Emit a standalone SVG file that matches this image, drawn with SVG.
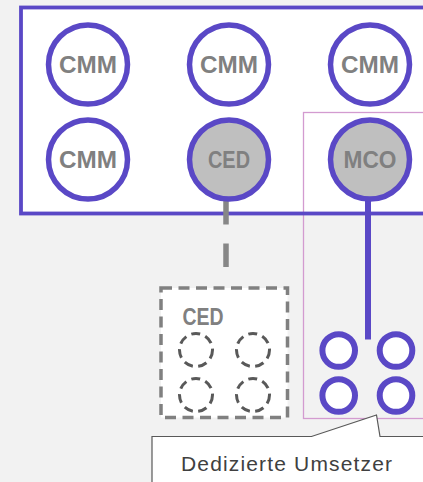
<svg xmlns="http://www.w3.org/2000/svg" width="423" height="482" viewBox="0 0 423 482">
  <style>
    .ring { stroke: #5a48c6; stroke-width: 5.5; }
    .cmm { fill: #ffffff; }
    .sel { fill: #bfbfbf; }
    .lbl { font-family: "Liberation Sans", Arial, sans-serif; font-weight: 700; font-size: 24px; fill: #808080; text-anchor: middle; }
    .conv { fill: #ffffff; stroke: #5a48c6; stroke-width: 6; }
    .spare { fill: none; stroke: #595959; stroke-width: 3; stroke-dasharray: 9 5.5; }
  </style>
  <rect width="423" height="482" fill="#f2f2f2"/>

  <!-- chassis -->
  <g id="chassis">
    <rect x="21" y="7.5" width="430" height="206" fill="#ffffff"/>
  </g>

  <!-- dedicated converter zone -->
  <g id="zone">
    <rect x="303.5" y="112.5" width="140" height="306" fill="none" stroke="#d39bd0" stroke-width="1.3"/>
  </g>

  <g id="chassis-frame">
    <rect x="21" y="7.5" width="430" height="206" fill="none" stroke="#5a48c6" stroke-width="3.8"/>
  </g>

  <!-- connectors -->
  <g id="connectors">
    <line x1="226" y1="201" x2="226" y2="286" stroke="#878787" stroke-width="5.5" stroke-dasharray="23.5 19"/>
    <line x1="368" y1="200" x2="368" y2="339.5" stroke="#5a48c6" stroke-width="6"/>
  </g>

  <g id="cmm1"><circle class="ring cmm" cx="88" cy="64.5" r="39.5"/><text class="lbl" x="88" y="72.5" textLength="58" lengthAdjust="spacingAndGlyphs">CMM</text></g>
  <g id="cmm2"><circle class="ring cmm" cx="229" cy="64.5" r="39.5"/><text class="lbl" x="229" y="72.5" textLength="58" lengthAdjust="spacingAndGlyphs">CMM</text></g>
  <g id="cmm3"><circle class="ring cmm" cx="370" cy="64.5" r="39.5"/><text class="lbl" x="370" y="72.5" textLength="58" lengthAdjust="spacingAndGlyphs">CMM</text></g>
  <g id="cmm4"><circle class="ring cmm" cx="88" cy="159.5" r="39.5"/><text class="lbl" x="88" y="167.5" textLength="58" lengthAdjust="spacingAndGlyphs">CMM</text></g>
  <g id="ced"><circle class="ring sel" cx="229" cy="159.5" r="39.5"/><text class="lbl" x="229" y="167.5" textLength="42" lengthAdjust="spacingAndGlyphs">CED</text></g>
  <g id="mco"><circle class="ring sel" cx="370" cy="159.5" r="39.5"/><text class="lbl" x="370" y="167.5" textLength="53" lengthAdjust="spacingAndGlyphs">MCO</text></g>

  <!-- external CED unit -->
  <g id="ced-unit">
    <rect x="161" y="288" width="126.5" height="129.5" fill="#ffffff" stroke="#808080" stroke-width="3.5" stroke-dasharray="11 6.5"/>
    <text class="lbl" x="203" y="325" textLength="41" lengthAdjust="spacingAndGlyphs">CED</text>
    <circle class="spare" cx="196" cy="350" r="16.5"/>
    <circle class="spare" cx="253" cy="350" r="16.5"/>
    <circle class="spare" cx="196" cy="395" r="16.5"/>
    <circle class="spare" cx="253" cy="395" r="16.5"/>
  </g>

  <!-- dedicated converters -->
  <g id="converters">
    <circle class="conv" cx="338.7" cy="350.5" r="16.3"/>
    <circle class="conv" cx="396" cy="350.5" r="16.3"/>
    <circle class="conv" cx="338.7" cy="395.5" r="16.3"/>
    <circle class="conv" cx="396" cy="395.5" r="16.3"/>
  </g>

  <!-- callout -->
  <g id="callout">
    <path d="M152,490 V436.5 H311.5 L376.5,415 L380,436.5 H430 V490 Z" fill="#ffffff" stroke="#595959" stroke-width="1.2"/>
    <text x="181" y="471" font-family="'Liberation Sans', Arial, sans-serif" font-size="21" fill="#404040" textLength="211">Dedizierte Umsetzer</text>
  </g>
</svg>
